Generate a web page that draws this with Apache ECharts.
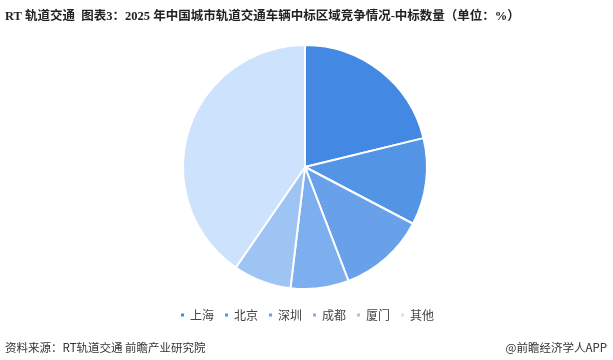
<!DOCTYPE html>
<html><head><meta charset="utf-8">
<script src="https://cdn.jsdelivr.net/npm/echarts@6/dist/echarts.min.js"></script>
<style>html,body{margin:0;padding:0;background:#fff}#c{width:613px;height:360px}</style>
</head><body><div id="c"></div>
<script>
const categories = ['上海','北京','深圳','成都','厦门','其他'];
const values = [21.2, 11.5, 11.5, 7.7, 7.7, 40.4];
const colors = ['#4388e2','#5394e5','#68a0e9','#7dafef','#9ec4f4','#cce2fd'];
const titleText = 'RT 轨道交通  图表3：2025 年中国城市轨道交通车辆中标区域竞争情况-中标数量（单位：%）';
const sourceText = '资料来源：RT轨道交通 前瞻产业研究院';
const brandText = '@前瞻经济学人APP';

const chart = echarts.init(document.getElementById('c'), null, {renderer:'canvas'});
chart.setOption({
  animation:false,
  backgroundColor:'#fff',
  color: colors,
  title:[
    {text:titleText, left:0, top:6, textStyle:{fontSize:12.5, fontWeight:'bold', color:'#222', fontFamily:'"Liberation Serif","Noto Sans CJK SC",serif'}},
    {text:sourceText, left:0, top:337, textStyle:{fontSize:11.5, fontWeight:'normal', color:'#333', fontFamily:'"Noto Sans CJK SC",sans-serif'}},
    {text:brandText, right:1, top:337, textStyle:{fontSize:11.5, fontWeight:'normal', color:'#333', fontFamily:'"Noto Sans CJK SC",sans-serif'}}
  ],
  legend:{
    data:categories, left:'center', top:304, icon:'rect', itemWidth:5, itemHeight:5, itemGap:9,
    textStyle:{fontSize:12, color:'#444', fontFamily:'"Noto Sans CJK SC",sans-serif'}
  },
  series:[{
    type:'pie', center:[305,167], radius:[0,122], startAngle:90, clockwise:true,
    label:{show:false}, labelLine:{show:false},
    itemStyle:{borderColor:'#fff', borderWidth:2},
    data: categories.map((n,i)=>({name:n, value:values[i]}))
  }]
});
</script></body></html>
